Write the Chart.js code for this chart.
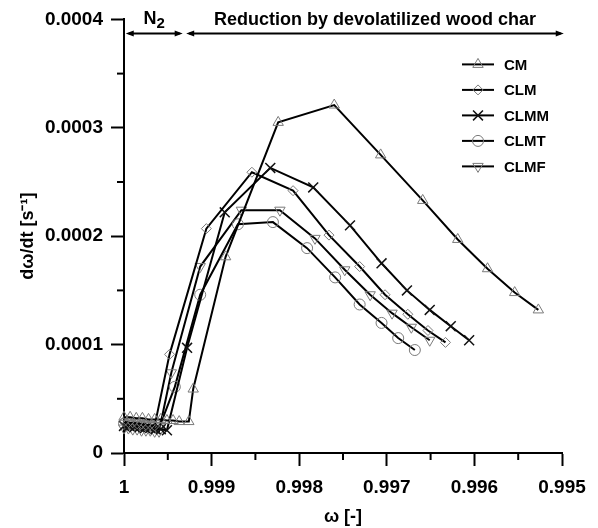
<!DOCTYPE html>
<html>
<head>
<meta charset="utf-8">
<script src="https://cdn.jsdelivr.net/npm/chart.js@4.4.1/dist/chart.umd.min.js"></script>
<style>
  html, body { margin: 0; padding: 0; background: #fff; }
</style>
</head>
<body>
<canvas id="chart" width="598" height="528"></canvas>
<script>
// Values: conversion omega (x) vs. rate d(omega)/dt (y)
const seriesNames = ['CM', 'CLM', 'CLMM', 'CLMT', 'CLMF'];

const cmX = [1.00000, 0.99993, 0.99986, 0.99979, 0.99972, 0.99965, 0.99958, 0.99951, 0.99944, 0.99937, 0.99926,
             0.99921, 0.99884, 0.99824, 0.99760, 0.99707, 0.99659, 0.99619, 0.99585, 0.99554, 0.99527];
const cmY = [0.000033, 0.000033, 0.000032, 0.000032, 0.000031, 0.000031, 0.000031, 0.000030, 0.000030, 0.000029, 0.000029,
             0.000059, 0.000181, 0.000305, 0.000321, 0.000275, 0.000233, 0.000197, 0.000170, 0.000148, 0.000132];

const clmX = [1.00000, 0.99995, 0.99990, 0.99985, 0.99980, 0.99975, 0.99970, 0.99965,
              0.99948, 0.99906, 0.99854, 0.99807, 0.99766, 0.99731, 0.99702, 0.99676, 0.99653, 0.99633];
const clmY = [0.000029, 0.000028, 0.000028, 0.000027, 0.000027, 0.000026, 0.000026, 0.000025,
              0.000091, 0.000207, 0.000259, 0.000242, 0.000201, 0.000172, 0.000146, 0.000128, 0.000113, 0.000102];

const clmmX = [1.00000, 0.99994, 0.99988, 0.99982, 0.99976, 0.99970, 0.99964, 0.99958, 0.99951,
               0.99928, 0.99885, 0.99833, 0.99784, 0.99742, 0.99706, 0.99677, 0.99651, 0.99627, 0.99606];
const clmmY = [0.000025, 0.000025, 0.000024, 0.000024, 0.000023, 0.000023, 0.000022, 0.000022, 0.000021,
               0.000097, 0.000222, 0.000263, 0.000245, 0.000210, 0.000175, 0.000150, 0.000132, 0.000117, 0.000104];

const clmtX = [1.00000, 0.99995, 0.99990, 0.99985, 0.99980, 0.99975, 0.99970, 0.99965, 0.99960,
               0.99942, 0.99913, 0.99870, 0.99830, 0.99791, 0.99759, 0.99731, 0.99706, 0.99687, 0.99668];
const clmtY = [0.000027, 0.000027, 0.000026, 0.000026, 0.000025, 0.000025, 0.000024, 0.000024, 0.000023,
               0.000061, 0.000146, 0.000211, 0.000213, 0.000189, 0.000162, 0.000137, 0.000120, 0.000106, 0.000095];

const clmfX = [1.00000, 0.99995, 0.99990, 0.99985, 0.99980, 0.99975, 0.99970, 0.99965, 0.99960,
               0.99946, 0.99913, 0.99866, 0.99822, 0.99782, 0.99748, 0.99719, 0.99694, 0.99672, 0.99651];
const clmfY = [0.000023, 0.000023, 0.000022, 0.000022, 0.000021, 0.000021, 0.000021, 0.000020, 0.000020,
               0.000074, 0.000172, 0.000224, 0.000224, 0.000198, 0.000169, 0.000146, 0.000129, 0.000116, 0.000104];

// axis ticks (major ones get a label)
const xMajorTicks = [1, 0.999, 0.998, 0.997, 0.996, 0.995];
const xTickLabels = ['1', '0.999', '0.998', '0.997', '0.996', '0.995'];
const yMajorTicks = [0, 0.0001, 0.0002, 0.0003, 0.0004];
const yTickLabels = ['0', '0.0001', '0.0002', '0.0003', '0.0004'];

// phase annotations above the curves
const n2Range = [0.99998, 0.99933];
const reductionRange = [0.99929, 0.99498];

const FONT = "'Liberation Sans', Arial, sans-serif";
const markerGray = '#7a7a7a';

function toPoints(xs, ys) {
    return xs.map((x, i) => ({ x: x, y: ys[i] }));
}

function majorIndex(list, v, tol) {
    return list.findIndex(m => Math.abs(m - v) < tol);
}

// marker look of each series
const markers = [
    { pointStyle: 'triangle', radius: 6, rotation: 0, color: markerGray, width: 1 },
    { pointStyle: 'rectRot', radius: 5, rotation: 0, color: markerGray, width: 1 },
    { pointStyle: 'crossRot', radius: 7, rotation: 0, color: '#111', width: 1.5 },
    { pointStyle: 'circle', radius: 5.5, rotation: 0, color: markerGray, width: 1 },
    { pointStyle: 'triangle', radius: 6, rotation: 180, color: markerGray, width: 1 }
];

const allData = [
    toPoints(cmX, cmY),
    toPoints(clmX, clmY),
    toPoints(clmmX, clmmY),
    toPoints(clmtX, clmtY),
    toPoints(clmfX, clmfY)
];

const datasets = seriesNames.map((name, i) => ({
    label: name,
    data: allData[i],
    showLine: true,
    borderColor: '#000',
    borderWidth: 2,
    pointStyle: markers[i].pointStyle,
    pointRadius: markers[i].radius,
    pointRotation: markers[i].rotation,
    pointBorderColor: markers[i].color,
    pointBackgroundColor: 'rgba(255,255,255,0)',
    pointBorderWidth: markers[i].width,
    clip: false
}));

// short minor ticks between the labelled ones
const minorTicks = {
    id: 'minorTicks',
    afterDraw(chart) {
        const ctx = chart.ctx;
        const xs = chart.scales.x;
        const ys = chart.scales.y;
        ctx.save();
        ctx.strokeStyle = '#000';
        ctx.lineWidth = 2;
        xs.ticks.forEach(t => {
            if (majorIndex(xMajorTicks, t.value, 1e-6) >= 0) return;
            const px = xs.getPixelForValue(t.value);
            ctx.beginPath();
            ctx.moveTo(px, xs.top);
            ctx.lineTo(px, xs.top + 7);
            ctx.stroke();
        });
        ys.ticks.forEach(t => {
            if (majorIndex(yMajorTicks, t.value, 1e-8) >= 0) return;
            const py = ys.getPixelForValue(t.value);
            ctx.beginPath();
            ctx.moveTo(ys.right, py);
            ctx.lineTo(ys.right - 7, py);
            ctx.stroke();
        });
        ctx.restore();
    }
};

function arrow(ctx, x1, x2, y) {
    ctx.beginPath();
    ctx.moveTo(x1 + 3, y);
    ctx.lineTo(x2 - 3, y);
    ctx.stroke();
    [[x1, 1], [x2, -1]].forEach(([x, d]) => {
        ctx.beginPath();
        ctx.moveTo(x, y);
        ctx.lineTo(x + d * 8, y - 3);
        ctx.lineTo(x + d * 8, y + 3);
        ctx.closePath();
        ctx.fill();
    });
}

// N2 / reduction phase arrows
const phaseLabels = {
    id: 'phaseLabels',
    afterDraw(chart) {
        const ctx = chart.ctx;
        const xs = chart.scales.x;
        const top = chart.chartArea.top;
        ctx.save();
        ctx.strokeStyle = '#000';
        ctx.fillStyle = '#000';
        ctx.lineWidth = 2;

        const a1 = xs.getPixelForValue(n2Range[0]);
        const a2 = xs.getPixelForValue(n2Range[1]);
        const b1 = xs.getPixelForValue(reductionRange[0]);
        const b2 = xs.getPixelForValue(reductionRange[1]);
        arrow(ctx, a1, a2, top + 14);
        arrow(ctx, b1, b2, top + 14);

        ctx.textBaseline = 'middle';
        ctx.font = 'bold 18px ' + FONT;
        const nW = ctx.measureText('N').width;
        ctx.font = 'bold 15px ' + FONT;
        const sW = ctx.measureText('2').width;
        const cx = (a1 + a2) / 2;
        const left = cx - (nW + sW) / 2;
        ctx.textAlign = 'left';
        ctx.font = 'bold 18px ' + FONT;
        ctx.fillText('N', left, top);
        ctx.font = 'bold 15px ' + FONT;
        ctx.fillText('2', left + nW, top + 4);

        ctx.textAlign = 'center';
        ctx.font = 'bold 18px ' + FONT;
        ctx.fillText('Reduction by devolatilized wood char', (b1 + b2) / 2, top + 1);
        ctx.restore();
    }
};

// legend with a line through each marker
const lineLegend = {
    id: 'lineLegend',
    afterDraw(chart) {
        const ctx = chart.ctx;
        const top = chart.chartArea.top;
        const x0 = 462, x1 = 494;
        ctx.save();
        seriesNames.forEach((name, i) => {
            const y = top + 45 + i * 25.5;
            ctx.strokeStyle = '#000';
            ctx.lineWidth = 2;
            ctx.beginPath();
            ctx.moveTo(x0, y);
            ctx.lineTo(x1, y);
            ctx.stroke();
            ctx.strokeStyle = markers[i].color;
            ctx.fillStyle = 'rgba(255,255,255,0)';
            ctx.lineWidth = markers[i].width;
            Chart.helpers.drawPoint(ctx, {
                pointStyle: markers[i].pointStyle,
                radius: markers[i].radius,
                rotation: markers[i].rotation,
                borderWidth: markers[i].width
            }, (x0 + x1) / 2, y);
            ctx.fillStyle = '#000';
            ctx.font = 'bold 15px ' + FONT;
            ctx.textAlign = 'left';
            ctx.textBaseline = 'middle';
            ctx.fillText(name, 504, y + 1);
        });
        ctx.restore();
    }
};

const ctx = document.getElementById('chart').getContext('2d');
new Chart(ctx, {
    type: 'scatter',
    data: { datasets: datasets },
    plugins: [minorTicks, phaseLabels, lineLegend],
    options: {
        responsive: false,
        animation: false,
        devicePixelRatio: 1,
        layout: { padding: { top: 19, right: 36, left: 0, bottom: 0 } },
        plugins: {
            legend: { display: false },
            tooltip: { enabled: false }
        },
        scales: {
            x: {
                type: 'linear',
                reverse: true,
                min: 0.995,
                max: 1,
                afterFit: s => { s.height = 75; },
                border: { display: true, color: '#000', width: 2 },
                grid: {
                    drawOnChartArea: false,
                    drawTicks: true,
                    tickLength: 13,
                    tickWidth: 2,
                    tickColor: c => majorIndex(xMajorTicks, c.tick.value, 1e-6) >= 0 ? '#000' : 'rgba(0,0,0,0)'
                },
                ticks: {
                    stepSize: 0.0005,
                    autoSkip: false,
                    maxRotation: 0,
                    padding: 10,
                    color: '#000',
                    font: { family: FONT, size: 19, weight: 'bold' },
                    callback: v => {
                        const k = majorIndex(xMajorTicks, v, 1e-6);
                        return k >= 0 ? xTickLabels[k] : '';
                    }
                },
                title: {
                    display: true,
                    text: 'ω [-]',
                    color: '#000',
                    padding: { top: 0, bottom: 0 },
                    font: { family: FONT, size: 18, weight: 'bold' }
                }
            },
            y: {
                type: 'linear',
                min: 0,
                max: 0.0004,
                afterFit: s => { s.width = 124; },
                border: { display: true, color: '#000', width: 2 },
                grid: {
                    drawOnChartArea: false,
                    drawTicks: true,
                    tickLength: 13,
                    tickWidth: 2,
                    tickColor: c => majorIndex(yMajorTicks, c.tick.value, 1e-8) >= 0 ? '#000' : 'rgba(0,0,0,0)'
                },
                ticks: {
                    stepSize: 0.00005,
                    autoSkip: false,
                    padding: 8,
                    color: '#000',
                    font: { family: FONT, size: 19, weight: 'bold' },
                    callback: v => {
                        const k = majorIndex(yMajorTicks, v, 1e-8);
                        return k >= 0 ? yTickLabels[k] : '';
                    }
                },
                title: {
                    display: true,
                    text: 'dω/dt [s⁻¹]',
                    color: '#000',
                    padding: { top: 17, bottom: 0 },
                    font: { family: FONT, size: 18, weight: 'bold' }
                }
            }
        }
    }
});
</script>
</body>
</html>
